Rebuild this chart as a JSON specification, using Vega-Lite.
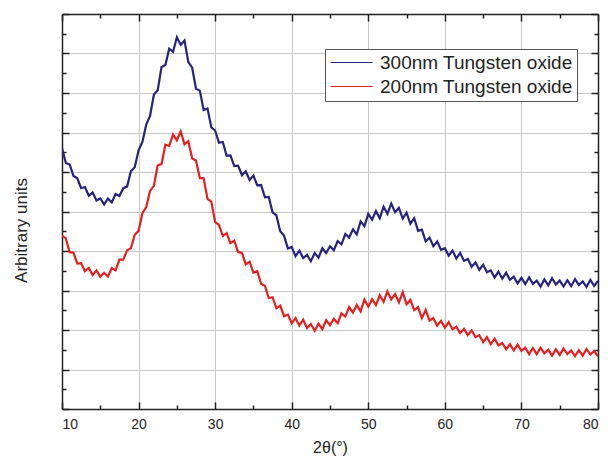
{
"$schema":"https://vega.github.io/schema/vega-lite/v6.json",
"width":536,"height":395,
"autosize":{"type":"none"},
"padding":{"left":62,"top":14,"right":10,"bottom":54},
"background":"white",
"config":{"font":"Liberation Sans","view":{"stroke":null}},
"data":{"values":[
{"t":10,"300nm":6.61,"200nm":4.39},{"t":10.5,"300nm":6.23,"200nm":4.32},{"t":11,"300nm":6.19,"200nm":3.97},{"t":11.5,"300nm":5.90,"200nm":3.96},
{"t":12,"300nm":5.84,"200nm":3.68},{"t":12.5,"300nm":5.59,"200nm":3.69},{"t":13,"300nm":5.62,"200nm":3.49},{"t":13.5,"300nm":5.40,"200nm":3.57},
{"t":14,"300nm":5.48,"200nm":3.39},{"t":14.5,"300nm":5.28,"200nm":3.51},{"t":15,"300nm":5.33,"200nm":3.35},{"t":15.5,"300nm":5.18,"200nm":3.45},
{"t":16,"300nm":5.33,"200nm":3.35},{"t":16.5,"300nm":5.23,"200nm":3.57},{"t":17,"300nm":5.44,"200nm":3.51},{"t":17.5,"300nm":5.39,"200nm":3.78},
{"t":18,"300nm":5.59,"200nm":3.78},{"t":18.5,"300nm":5.63,"200nm":4.02},{"t":19,"300nm":6.02,"200nm":4.07},{"t":19.5,"300nm":6.12,"200nm":4.41},
{"t":20,"300nm":6.55,"200nm":4.51},{"t":20.5,"300nm":6.76,"200nm":4.96},{"t":21,"300nm":7.20,"200nm":5.11},{"t":21.5,"300nm":7.42,"200nm":5.52},
{"t":22,"300nm":7.96,"200nm":5.65},{"t":22.5,"300nm":8.07,"200nm":6.17},{"t":23,"300nm":8.66,"200nm":6.20},{"t":23.5,"300nm":8.71,"200nm":6.69},
{"t":24,"300nm":9.12,"200nm":6.66},{"t":24.5,"300nm":9.04,"200nm":6.95},{"t":25,"300nm":9.41,"200nm":6.80},{"t":25.5,"300nm":9.22,"200nm":7.03},
{"t":26,"300nm":9.33,"200nm":6.70},{"t":26.5,"300nm":8.78,"200nm":6.78},{"t":27,"300nm":8.64,"200nm":6.34},{"t":27.5,"300nm":8.11,"200nm":6.29},
{"t":28,"300nm":8.06,"200nm":5.85},{"t":28.5,"300nm":7.57,"200nm":5.84},{"t":29,"300nm":7.61,"200nm":5.32},{"t":29.5,"300nm":7.13,"200nm":5.25},
{"t":30,"300nm":7.05,"200nm":4.73},{"t":30.5,"300nm":6.74,"200nm":4.66},{"t":31,"300nm":6.76,"200nm":4.38},{"t":31.5,"300nm":6.41,"200nm":4.45},
{"t":32,"300nm":6.42,"200nm":4.20},{"t":32.5,"300nm":6.15,"200nm":4.26},{"t":33,"300nm":6.16,"200nm":3.97},{"t":33.5,"300nm":5.92,"200nm":3.95},
{"t":34,"300nm":6.02,"200nm":3.66},{"t":34.5,"300nm":5.80,"200nm":3.73},{"t":35,"300nm":5.91,"200nm":3.45},{"t":35.5,"300nm":5.66,"200nm":3.49},
{"t":36,"300nm":5.67,"200nm":3.17},{"t":36.5,"300nm":5.36,"200nm":3.12},{"t":37,"300nm":5.37,"200nm":2.81},{"t":37.5,"300nm":4.98,"200nm":2.83},
{"t":38,"300nm":4.90,"200nm":2.55},{"t":38.5,"300nm":4.50,"200nm":2.62},{"t":39,"300nm":4.39,"200nm":2.35},{"t":39.5,"300nm":4.06,"200nm":2.39},
{"t":40,"300nm":4.10,"200nm":2.17},{"t":40.5,"300nm":3.87,"200nm":2.30},{"t":41,"300nm":4.01,"200nm":2.11},{"t":41.5,"300nm":3.82,"200nm":2.26},
{"t":42,"300nm":3.90,"200nm":2.05},{"t":42.5,"300nm":3.74,"200nm":2.15},{"t":43,"300nm":3.95,"200nm":1.98},{"t":43.5,"300nm":3.83,"200nm":2.16},
{"t":44,"300nm":4.07,"200nm":2.02},{"t":44.5,"300nm":3.95,"200nm":2.25},{"t":45,"300nm":4.12,"200nm":2.12},{"t":45.5,"300nm":4.02,"200nm":2.28},
{"t":46,"300nm":4.25,"200nm":2.17},{"t":46.5,"300nm":4.17,"200nm":2.42},{"t":47,"300nm":4.43,"200nm":2.34},{"t":47.5,"300nm":4.34,"200nm":2.58},
{"t":48,"300nm":4.55,"200nm":2.44},{"t":48.5,"300nm":4.42,"200nm":2.63},{"t":49,"300nm":4.75,"200nm":2.47},{"t":49.5,"300nm":4.63,"200nm":2.77},
{"t":50,"300nm":4.94,"200nm":2.59},{"t":50.5,"300nm":4.79,"200nm":2.78},{"t":51,"300nm":5.01,"200nm":2.63},{"t":51.5,"300nm":4.83,"200nm":2.88},
{"t":52,"300nm":5.12,"200nm":2.71},{"t":52.5,"300nm":4.94,"200nm":2.98},{"t":53,"300nm":5.20,"200nm":2.77},{"t":53.5,"300nm":4.98,"200nm":2.91},
{"t":54,"300nm":5.09,"200nm":2.70},{"t":54.5,"300nm":4.82,"200nm":2.96},{"t":55,"300nm":4.97,"200nm":2.65},{"t":55.5,"300nm":4.69,"200nm":2.76},
{"t":56,"300nm":4.83,"200nm":2.50},{"t":56.5,"300nm":4.51,"200nm":2.58},{"t":57,"300nm":4.54,"200nm":2.30},{"t":57.5,"300nm":4.24,"200nm":2.51},
{"t":58,"300nm":4.34,"200nm":2.24},{"t":58.5,"300nm":4.12,"200nm":2.30},{"t":59,"300nm":4.24,"200nm":2.11},{"t":59.5,"300nm":4.03,"200nm":2.23},
{"t":60,"300nm":4.07,"200nm":2.06},{"t":60.5,"300nm":3.88,"200nm":2.20},{"t":61,"300nm":4.01,"200nm":2.02},{"t":61.5,"300nm":3.81,"200nm":2.08},
{"t":62,"300nm":3.95,"200nm":1.92},{"t":62.5,"300nm":3.75,"200nm":2.03},{"t":63,"300nm":3.80,"200nm":1.87},{"t":63.5,"300nm":3.60,"200nm":1.99},
{"t":64,"300nm":3.71,"200nm":1.82},{"t":64.5,"300nm":3.52,"200nm":1.87},{"t":65,"300nm":3.65,"200nm":1.69},{"t":65.5,"300nm":3.46,"200nm":1.82},
{"t":66,"300nm":3.51,"200nm":1.64},{"t":66.5,"300nm":3.33,"200nm":1.78},{"t":67,"300nm":3.48,"200nm":1.61},{"t":67.5,"300nm":3.30,"200nm":1.67},
{"t":68,"300nm":3.45,"200nm":1.51},{"t":68.5,"300nm":3.27,"200nm":1.64},{"t":69,"300nm":3.35,"200nm":1.48},{"t":69.5,"300nm":3.18,"200nm":1.63},
{"t":70,"300nm":3.32,"200nm":1.47},{"t":70.5,"300nm":3.16,"200nm":1.55},{"t":71,"300nm":3.33,"200nm":1.39},{"t":71.5,"300nm":3.17,"200nm":1.54},
{"t":72,"300nm":3.25,"200nm":1.39},{"t":72.5,"300nm":3.10,"200nm":1.55},{"t":73,"300nm":3.28,"200nm":1.41},{"t":73.5,"300nm":3.13,"200nm":1.50},
{"t":74,"300nm":3.31,"200nm":1.35},{"t":74.5,"300nm":3.15,"200nm":1.51},{"t":75,"300nm":3.25,"200nm":1.37},{"t":75.5,"300nm":3.10,"200nm":1.53},
{"t":76,"300nm":3.26,"200nm":1.39},{"t":76.5,"300nm":3.11,"200nm":1.48},{"t":77,"300nm":3.29,"200nm":1.34},{"t":77.5,"300nm":3.14,"200nm":1.49},
{"t":78,"300nm":3.23,"200nm":1.35},{"t":78.5,"300nm":3.09,"200nm":1.52},{"t":79,"300nm":3.27,"200nm":1.38},{"t":79.5,"300nm":3.12,"200nm":1.47},
{"t":80,"300nm":3.24,"200nm":1.33}
]},
"transform":[{"fold":["300nm","200nm"],"as":["s","v"]}],
"resolve":{"axis":{"x":"independent","y":"independent"}},
"layer":[
{
"mark":{"type":"line","strokeWidth":2.2,"clip":true},
"encoding":{
"x":{"field":"t","type":"quantitative","scale":{"domain":[10,80],"nice":false,"zero":false},
"axis":{"orient":"bottom","values":[10,20,30,40,50,60,70,80],"ticks":false,"grid":true,"gridColor":"#c8c8c8","gridWidth":1,"domain":true,"domainColor":"#222","domainWidth":1.5,"labelFontSize":14,"labelColor":"#222","labelPadding":8,"title":"2θ(°)","titleFontSize":16,"titleFontWeight":"normal","titleColor":"#222","titlePadding":8}},
"y":{"field":"v","type":"quantitative","scale":{"domain":[0,10],"nice":false,"zero":false},
"axis":{"orient":"left","values":[0,1,2,3,4,5,6,7,8,9,10],"ticks":false,"labels":false,"grid":true,"gridColor":"#c8c8c8","gridWidth":1,"domain":true,"domainColor":"#222","domainWidth":1.5,"title":"Arbitrary units","titleFontSize":17,"titleFontWeight":"normal","titleColor":"#222","titleAngle":-90,"titleX":-41,"titleY":216,"titleAlign":"center","titleBaseline":"middle"}},
"color":{"field":"s","type":"nominal","scale":{"domain":["300nm","200nm"],"range":["#27237c","#e3201f"]},
"legend":{"orient":"none","legendX":263,"legendY":35,"title":null,"symbolType":"M-4,0H4","symbolSize":110,"symbolOffset":13,"symbolStrokeWidth":1.2,"labelFontSize":19,"labelLimit":400,"labelColor":"#222","labelExpr":"datum.label + ' Tungsten oxide'","strokeColor":"#555","fillColor":"white","padding":4,"rowPadding":4,"labelOffset":19}}
}
},
{
"mark":{"type":"line","strokeOpacity":0},
"encoding":{
"x":{"field":"t","type":"quantitative","scale":{"domain":[10,80],"nice":false,"zero":false},
"axis":{"orient":"bottom","values":[10,15,20,25,30,35,40,45,50,55,60,65,70,75,80],"labels":false,"grid":false,"domain":false,"title":null,"tickColor":"#222","tickWidth":1.5,"tickSize":{"condition":{"test":"datum.value % 10 === 0","value":-7},"value":-4}}},
"y":{"field":"v","type":"quantitative","scale":{"domain":[0,10],"nice":false,"zero":false},
"axis":{"orient":"left","values":[0,0.5,1,1.5,2,2.5,3,3.5,4,4.5,5,5.5,6,6.5,7,7.5,8,8.5,9,9.5,10],"labels":false,"grid":false,"domain":false,"title":null,"tickColor":"#222","tickWidth":1.5,"tickSize":{"condition":{"test":"datum.value % 1 === 0","value":-7},"value":-4}}},
"detail":{"field":"s"}
}
},
{
"mark":{"type":"line","strokeOpacity":0},
"encoding":{
"x":{"field":"t","type":"quantitative","scale":{"domain":[10,80],"nice":false,"zero":false},
"axis":{"orient":"top","values":[10,15,20,25,30,35,40,45,50,55,60,65,70,75,80],"labels":false,"grid":false,"domain":true,"domainColor":"#222","domainWidth":1.5,"title":null,"tickColor":"#222","tickWidth":1.5,"tickSize":{"condition":{"test":"datum.value % 10 === 0","value":-7},"value":-4}}},
"y":{"field":"v","type":"quantitative","scale":{"domain":[0,10],"nice":false,"zero":false},
"axis":{"orient":"right","values":[0,0.5,1,1.5,2,2.5,3,3.5,4,4.5,5,5.5,6,6.5,7,7.5,8,8.5,9,9.5,10],"labels":false,"grid":false,"domain":true,"domainColor":"#222","domainWidth":1.5,"title":null,"tickColor":"#222","tickWidth":1.5,"tickSize":{"condition":{"test":"datum.value % 1 === 0","value":-7},"value":-4}}},
"detail":{"field":"s"}
}
}
]
}
